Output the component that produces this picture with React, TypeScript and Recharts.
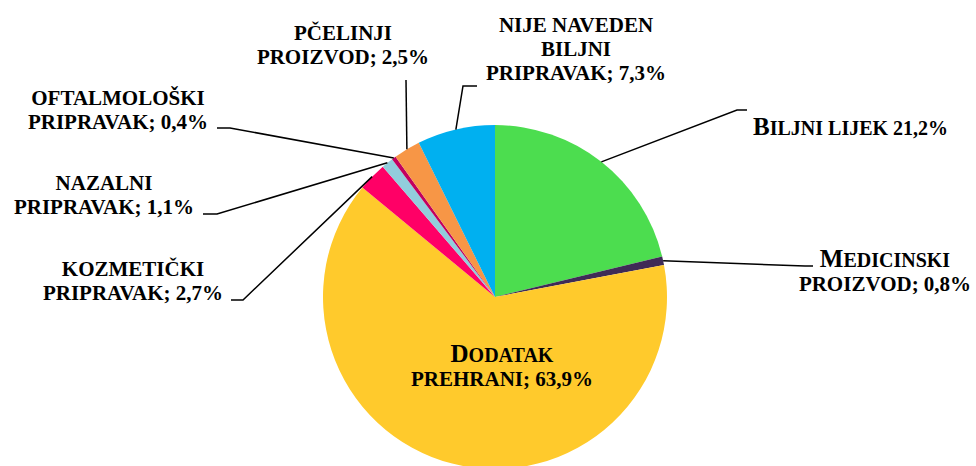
import React from "react";
import { PieChart, Pie, Cell } from "recharts";

const categories = [
  "BILJNI LIJEK",
  "MEDICINSKI PROIZVOD",
  "DODATAK PREHRANI",
  "KOZMETIČKI PRIPRAVAK",
  "NAZALNI PRIPRAVAK",
  "OFTALMOLOŠKI PRIPRAVAK",
  "PČELINJI PROIZVOD",
  "NIJE NAVEDEN BILJNI PRIPRAVAK",
];
const values = [21.2, 0.8, 63.9, 2.7, 1.1, 0.4, 2.5, 7.3];
const valueLabels = ["21,2%", "0,8%", "63,9%", "2,7%", "1,1%", "0,4%", "2,5%", "7,3%"];
const colors = ["#4cdd4f", "#3f2b56", "#ffca2c", "#ff0066", "#92cddc", "#c2005e", "#f79646", "#00b0f0"];

// label text lines; a leading "^" marks an enlarged initial (small-caps look)
const labelLines: string[][] = [
  ["^BILJNI LIJEK 21,2%"],
  ["^MEDICINSKI", "PROIZVOD; 0,8%"],
  ["^DODATAK", "PREHRANI; 63,9%"],
  ["KOZMETIČKI", "PRIPRAVAK; 2,7%"],
  ["NAZALNI", "PRIPRAVAK; 1,1%"],
  ["OFTALMOLOŠKI", "PRIPRAVAK; 0,4%"],
  ["PČELINJI", "PROIZVOD; 2,5%"],
  ["NIJE NAVEDEN", "BILJNI", "PRIPRAVAK; 7,3%"],
];

// label layout, offsets from the pie centre
type Layout = { tx: number; ty: number; anchor: "start" | "middle"; leader: [number, number][] | null };
const layout: Layout[] = [
  { tx: 258, ty: -162, anchor: "start", leader: [[242, -187], [252, -187]] },
  { tx: 390, ty: -30, anchor: "middle", leader: [[310, -31], [318, -31]] },
  { tx: 7, ty: 65, anchor: "middle", leader: null },
  { tx: -362, ty: -21, anchor: "middle", leader: [[-252, 3], [-264, 3]] },
  { tx: -391, ty: -107, anchor: "middle", leader: [[-278, -83], [-292, -83]] },
  { tx: -377, ty: -192, anchor: "middle", leader: [[-265, -169], [-278, -169]] },
  { tx: -152, ty: -257, anchor: "middle", leader: [[-89, -217]] },
  { tx: 81, ty: -265, anchor: "middle", leader: [[-32, -211], [-18, -211]] },
];

const data = categories.map((name, i) => ({ name, value: values[i], label: valueLabels[i] }));

const FONT = '"Liberation Serif", Tinos, "Times New Roman", FreeSerif, serif';
const FS = 21;
const BIG = 25;
const SMALL = 20;
const LH = 24;

const css = `.pie-lbl text, .pie-lbl tspan { font-family: "Liberation Serif", Tinos, "Times New Roman", serif !important; font-weight: 700 !important; }`;

const renderLabel = (props: any) => {
  const { cx, cy, midAngle, outerRadius, index } = props;
  const L = layout[index];
  const RAD = Math.PI / 180;
  const sx = cx + outerRadius * Math.cos(-midAngle * RAD);
  const sy = cy + outerRadius * Math.sin(-midAngle * RAD);
  const lines = labelLines[index];
  let leader = null;
  if (L.leader) {
    const pts = [[sx, sy], ...L.leader.map(([x, y]) => [cx + x, cy + y])];
    leader = (
      <polyline
        points={pts.map((p) => p.join(",")).join(" ")}
        fill="none"
        stroke="#000"
        strokeWidth={1.5}
      />
    );
  }
  return (
    <g key={`lbl-${index}`} className="pie-lbl">
      {leader}
      {lines.map((ln, j) => {
        const x = cx + L.tx;
        const y = cy + L.ty + j * LH;
        if (ln.startsWith("^")) {
          const s = ln.slice(1);
          const first = s[0];
          const rest = s.slice(1);
          return (
            <text key={j} x={x} y={y} textAnchor={L.anchor} fontFamily="Liberation Serif" fontWeight="bold" style={{ fontFamily: FONT, fontWeight: 700, fontSize: SMALL }}>
              <tspan style={{ fontSize: BIG }}>{first}</tspan>
              <tspan style={{ fontSize: SMALL }}>{rest}</tspan>
            </text>
          );
        }
        return (
          <text key={j} x={x} y={y} textAnchor={L.anchor} fontFamily="Liberation Serif" fontWeight="bold" style={{ fontFamily: FONT, fontWeight: 700, fontSize: FS }}>
            {ln}
          </text>
        );
      })}
    </g>
  );
};

export default function App() {
  return (
    <div style={{ position: "fixed", left: 0, top: 0, background: "#fff" }}>
      <style>{css}</style>
      <PieChart width={976} height={466} margin={{ top: 0, right: 0, bottom: 0, left: 0 }}>
        <Pie
          data={data}
          dataKey="value"
          nameKey="name"
          cx={495}
          cy={297}
          outerRadius={172}
          startAngle={90}
          endAngle={-270}
          stroke="none"
          isAnimationActive={false}
          label={renderLabel}
          labelLine={false}
        >
          {data.map((d, i) => (
            <Cell key={d.name} fill={colors[i]} />
          ))}
        </Pie>
      </PieChart>
    </div>
  );
}
